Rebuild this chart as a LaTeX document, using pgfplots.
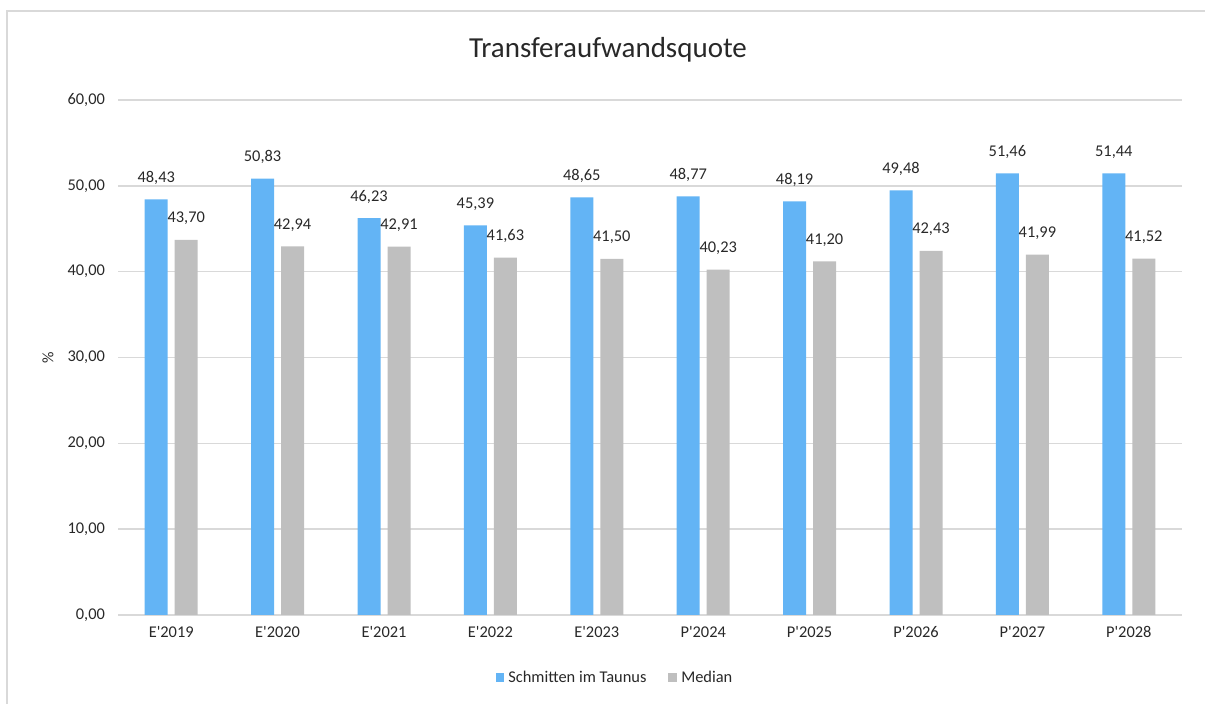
\documentclass[border=0pt]{standalone}
\usepackage{fontspec}
\setmainfont{Carlito}[Ligatures=TeXOff]
\usepackage{pgfplots}
\pgfplotsset{compat=1.18}
\definecolor{bluebar}{RGB}{99,180,245}
\definecolor{graybar}{RGB}{191,191,191}
\definecolor{gridcol}{RGB}{217,217,217}
\definecolor{txt}{RGB}{40,40,40}

\begin{document}
\begin{tikzpicture}
  \useasboundingbox (0pt,0pt) rectangle (602.5pt,352pt);
  \draw[gridcol,line width=0.8pt] (3.5pt,-2pt) -- (3.5pt,346.5pt) -- (605pt,346.5pt);
  \node[font=\fontsize{14.5}{17}\selectfont,text=txt] at (304pt,327pt) {Transferaufwandsquote};
  \node[font=\fontsize{8}{10}\selectfont,text=txt,rotate=90] at (24pt,173pt) {\%};
  \begin{axis}[
    at={(59pt,44.5pt)}, anchor=south west,
    scale only axis, width=532pt, height=257.5pt,
    ybar, bar width=11.5pt,
    xmin=-0.5, xmax=9.5, ymin=0, ymax=60,
    xtick={0,...,9},
    xticklabels={E'2019,E'2020,E'2021,E'2022,E'2023,P'2024,P'2025,P'2026,P'2027,P'2028},
    ytick={0,10,...,60},
    major tick length=0pt,
    axis x line*=bottom, axis y line*=left,
    y axis line style={draw=none},
    x axis line style={gridcol,line width=1.2pt,-},
    ymajorgrids, grid style={gridcol,line width=0.8pt},
    tick label style={font=\fontsize{8.2}{10}\selectfont,text=txt},
    xticklabel style={yshift=-2pt},
    /pgf/number format/.cd, fixed, fixed zerofill, precision=2, use comma, assume math mode=true,
    /pgfplots/.cd,
    yticklabel style={xshift=-3pt},
    nodes near coords,
    every node near coord/.append style={font=\fontsize{8.2}{10}\selectfont,text=txt,yshift=4pt},
    legend style={at={(axis description cs:0.468,-0.122)}, anchor=center, draw=none,
      legend columns=2, font=\fontsize{8.2}{10}\selectfont, text=txt,
      /tikz/every even column/.append style={column sep=9pt}},
    legend image code/.code={\fill[#1] (0pt,-2.2pt) rectangle (4.4pt,2.2pt);},
  ]
    \addplot[fill=bluebar,draw=none,bar shift=-7.5pt] coordinates {
      (0,48.43) (1,50.83) (2,46.23) (3,45.39) (4,48.65)
      (5,48.77) (6,48.19) (7,49.48) (8,51.46) (9,51.44)};
    \addplot[fill=graybar,draw=none,bar shift=7.5pt] coordinates {
      (0,43.70) (1,42.94) (2,42.91) (3,41.63) (4,41.50)
      (5,40.23) (6,41.20) (7,42.43) (8,41.99) (9,41.52)};
    \legend{Schmitten im Taunus,Median}
  \end{axis}
\end{tikzpicture}
\end{document}
